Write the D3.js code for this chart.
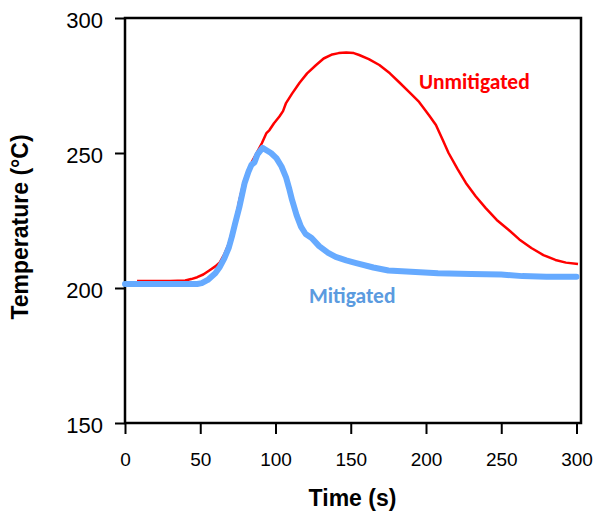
<!DOCTYPE html>
<html>
<head>
<meta charset="utf-8">
<script src="https://cdn.jsdelivr.net/npm/d3@7"></script>
<style>
  html, body { margin: 0; padding: 0; background: #fff; }
  svg { display: block; }
</style>
</head>
<body>
<svg id="chart" width="593" height="515"></svg>
<script>
// ---- data ----
const xTicks = [0, 50, 100, 150, 200, 250, 300];
const yTicks = [150, 200, 250, 300];

const mitigatedTime = [0, 10, 20, 30, 40, 48, 51, 55, 60, 63, 66, 69, 71, 73, 76, 79.5, 82, 84, 86, 88, 91.4, 94, 97, 100.6, 104, 107, 109, 111, 114, 117, 120, 124, 129, 135, 140, 147, 153, 165, 175, 190, 208, 230, 250, 264, 280, 300];
const mitigatedTemp = [201.5, 201.5, 201.5, 201.5, 201.5, 201.5, 201.8, 203, 205.5, 207.8, 211, 215, 219, 223.5, 230, 238.9, 243, 245.6, 246.5, 249.5, 251.9, 251, 250, 248.1, 245, 241, 237, 232.6, 227, 222.6, 220, 218.5, 215.5, 213, 211.5, 210.2, 209.3, 207.6, 206.5, 206, 205.5, 205.2, 205, 204.4, 204.2, 204.2];

const unmitigatedTime = [8, 20, 30, 40, 44, 48, 52, 56, 60, 63, 66, 69, 71.5, 74, 76, 79, 82, 85, 88, 91, 94, 96, 99, 102.6, 105, 107, 111, 116, 121, 127, 132, 137.7, 142, 147, 152, 155.6, 162, 169, 176, 182, 188.7, 195.4, 202, 206.6, 211, 215, 221, 226.5, 233, 239.7, 247, 255, 262, 270, 278, 286, 293, 301];
const unmitigatedTemp = [202.6, 202.6, 202.6, 202.8, 203.3, 204, 205, 206.5, 208, 209.5, 212.5, 216.5, 221.5, 227, 232.6, 239.5, 244, 247.5, 250.5, 253.7, 257.4, 258.5, 261, 263.5, 265.5, 268.5, 272, 276, 279.5, 282.6, 285, 286.5, 287, 287.2, 287, 286.3, 284.8, 282.6, 279.5, 276.3, 272.6, 268.9, 264, 260.4, 255, 250, 244, 238.9, 234, 229.6, 225.2, 221.5, 218, 214.8, 212.2, 210.4, 209.4, 208.9];

const xLabel = "Time (s)";
const yLabel = "Temperature (°C)";
const seriesNames = ["Unmitigated", "Mitigated"];

// ---- layout ----
const svg = d3.select("#chart");
const x = d3.scaleLinear().domain([0, 300]).range([125, 576.5]);
const y = d3.scaleLinear().domain([150, 300]).range([423, 18]);

// plot frame
svg.append("rect")
  .attr("x", x(0)).attr("y", y(300))
  .attr("width", 581 - x(0)).attr("height", y(150) - y(300))
  .attr("fill", "none").attr("stroke", "#000").attr("stroke-width", 2.5);

// axes
const yAxis = svg.append("g")
  .attr("transform", `translate(${x(0)},0)`)
  .call(d3.axisLeft(y).tickValues(yTicks).tickSize(10).tickSizeOuter(0).tickPadding(12));
yAxis.select(".domain").remove();
yAxis.selectAll(".tick line").attr("stroke", "#000").attr("stroke-width", 2);
yAxis.selectAll(".tick text")
  .attr("font-family", "'Liberation Sans', Arial, sans-serif")
  .attr("font-size", 22).attr("fill", "#000").attr("dy", "0.45em");

const xAxis = svg.append("g")
  .attr("transform", `translate(0,${y(150)})`)
  .call(d3.axisBottom(x).tickValues(xTicks).tickSize(11).tickSizeOuter(0).tickPadding(19));
xAxis.select(".domain").remove();
xAxis.selectAll(".tick line").attr("stroke", "#000").attr("stroke-width", 2);
xAxis.selectAll(".tick text")
  .attr("font-family", "'Liberation Sans', Arial, sans-serif")
  .attr("font-size", 19).attr("fill", "#000");

// axis titles
svg.append("text")
  .attr("x", 352.5).attr("y", 506)
  .attr("text-anchor", "middle")
  .attr("font-family", "'Liberation Sans', Arial, sans-serif")
  .attr("font-weight", "bold").attr("font-size", 23)
  .text(xLabel);

svg.append("text")
  .attr("transform", "translate(28,227) rotate(-90)")
  .attr("text-anchor", "middle")
  .attr("font-family", "'Liberation Sans', Arial, sans-serif")
  .attr("font-weight", "bold").attr("font-size", 23)
  .text(yLabel);

// lines
const line = d3.line().x(d => x(d[0])).y(d => y(d[1]));
const redData = unmitigatedTime.map((t, i) => [t, unmitigatedTemp[i]]);
const blueData = mitigatedTime.map((t, i) => [t, mitigatedTemp[i]]);

svg.append("path").datum(redData)
  .attr("d", line).attr("fill", "none")
  .attr("stroke", "#ff0000").attr("stroke-width", 2.5)
  .attr("stroke-linejoin", "round");

svg.append("path").datum(blueData)
  .attr("d", line).attr("fill", "none")
  .attr("stroke", "#66aaff").attr("stroke-width", 6)
  .attr("stroke-linejoin", "round").attr("stroke-linecap", "round");

// series labels
svg.append("text")
  .attr("x", 419).attr("y", 89)
  .attr("font-family", "Carlito, Lato, 'Open Sans', sans-serif")
  .attr("font-weight", "bold").attr("font-size", 21.5)
  .attr("fill", "#ff0000")
  .text(seriesNames[0]);

svg.append("text")
  .attr("x", 309).attr("y", 303)
  .attr("font-family", "Carlito, Lato, 'Open Sans', sans-serif")
  .attr("font-weight", "bold").attr("font-size", 21.5)
  .attr("fill", "#5b9bdf")
  .text(seriesNames[1]);
</script>
</body>
</html>
